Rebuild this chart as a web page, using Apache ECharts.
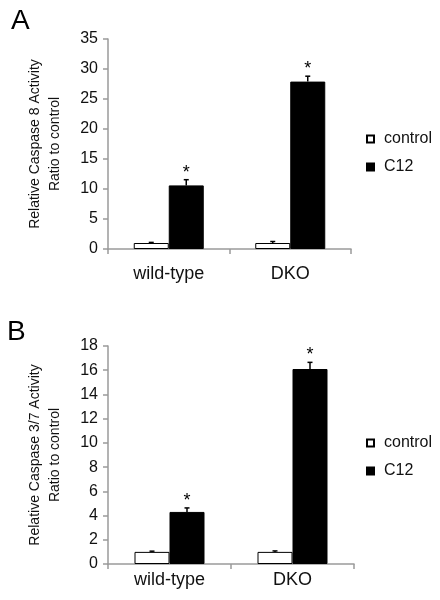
<!DOCTYPE html>
<html>
<head>
<meta charset="utf-8">
<script src="https://cdn.jsdelivr.net/npm/echarts@6/dist/echarts.min.js"></script>
<style>
html,body{margin:0;padding:0;background:#fff;}
#c{width:440px;height:600px;}
</style>
</head>
<body>
<div id="c"></div>
<script>
var categories = ['wild-type', 'DKO'];
var seriesNames = ['control', 'C12'];

// Panel A: Relative Caspase 8 Activity
var ticksA = { min: 0, max: 35, interval: 5 };
var controlA = [1.0, 1.0];
var controlErrA = [0.1, 0.25];
var c12A = [10.6, 27.9];
var c12ErrA = [0.95, 0.9];
var starsA = [true, true];

// Panel B: Relative Caspase 3/7 Activity
var ticksB = { min: 0, max: 18, interval: 2 };
var controlB = [1.0, 1.0];
var controlErrB = [0.06, 0.08];
var c12B = [4.3, 16.1];
var c12ErrB = [0.33, 0.55];
var starsB = [true, true];

var titleA = 'Relative Caspase 8 Activity\nRatio to control';
var titleB = 'Relative Caspase 3/7 Activity\nRatio to control';

var FONT = 'Liberation Sans, Arial, sans-serif';
var AXIS_COLOR = '#9a9a9a';
var TEXT_COLOR = '#111';
var BAR_W = 35;

function errData(vals, errs, sign, stars) {
  return vals.map(function (v, i) { return [i, v, errs[i], sign, stars ? (stars[i] ? 1 : 0) : 0]; });
}

function renderErr(params, api) {
  var cat = api.value(0), v = api.value(1), e = api.value(2), sign = api.value(3), star = api.value(4);
  var base = api.coord([cat, v]);
  var top = api.coord([cat, v + e]);
  var x = base[0] + sign * BAR_W / 2;
  var children = [
    { type: 'line', shape: { x1: x, y1: base[1], x2: x, y2: top[1] }, style: { stroke: '#000', lineWidth: 1.5 } },
    { type: 'line', shape: { x1: x - 2.5, y1: top[1], x2: x + 2.5, y2: top[1] }, style: { stroke: '#000', lineWidth: 1.5 } }
  ];
  if (star) {
    children.push({ type: 'text', style: { text: '*', x: x, y: top[1] - 7, textAlign: 'center', textVerticalAlign: 'middle', font: '18px ' + FONT, fill: '#000' } });
  }
  return { type: 'group', children: children };
}

function xAxis(gi, margin) {
  return {
    type: 'category', gridIndex: gi, data: categories,
    axisLine: { lineStyle: { color: AXIS_COLOR, width: 1.5 } },
    axisTick: { show: true, length: 5, lineStyle: { color: AXIS_COLOR, width: 1.5 } },
    axisLabel: { color: TEXT_COLOR, fontSize: 18, fontFamily: FONT, margin: margin }
  };
}
function yAxis(gi, t, name) {
  return {
    type: 'value', gridIndex: gi, min: t.min, max: t.max, interval: t.interval,
    name: name, nameLocation: 'middle', nameRotate: 90, nameGap: 43,
    nameTextStyle: { color: TEXT_COLOR, fontSize: 14, fontFamily: FONT, lineHeight: 20, align: 'center' },
    axisLine: { show: true, lineStyle: { color: AXIS_COLOR, width: 1.5 } },
    axisTick: { show: true, length: 5, lineStyle: { color: AXIS_COLOR, width: 1.5 } },
    axisLabel: { color: TEXT_COLOR, fontSize: 16, fontFamily: FONT, margin: 10 },
    splitLine: { show: false }
  };
}
function barSeries(name, data, xi, filled) {
  return {
    type: 'bar', name: name, xAxisIndex: xi, yAxisIndex: xi, data: data,
    barWidth: BAR_W, barGap: '0%',
    itemStyle: filled ? { color: '#000', borderColor: '#000', borderWidth: 1 } : { color: '#fff', borderColor: '#000', borderWidth: 1 },
    emphasis: { disabled: true }, animation: false
  };
}
function errSeries(data, xi) {
  return {
    type: 'custom', xAxisIndex: xi, yAxisIndex: xi, data: data,
    encode: { x: 0, y: 1 }, renderItem: renderErr, animation: false, z: 5, silent: true
  };
}
function legend(top) {
  return {
    data: seriesNames, orient: 'vertical', left: 361, top: top,
    icon: 'rect', itemWidth: 7, itemHeight: 7, itemGap: 12,
    textStyle: { color: TEXT_COLOR, fontSize: 16, fontFamily: FONT, padding: [0, 0, 0, 5] },
    selectedMode: false
  };
}

var chart = echarts.init(document.getElementById('c'), null, { renderer: 'canvas' });
chart.setOption({
  backgroundColor: '#fff',
  animation: false,
  title: [
    { text: 'A', left: 11, top: 7, padding: 0, textStyle: { fontSize: 28, fontWeight: 'normal', color: '#000', fontFamily: FONT } },
    { text: 'B', left: 7, top: 318, padding: 0, textStyle: { fontSize: 28, fontWeight: 'normal', color: '#000', fontFamily: FONT } }
  ],
  legend: [legend(126), legend(430)],
  grid: [
    { left: 108, width: 243, top: 39, height: 210 },
    { left: 108, width: 246, top: 346, height: 218 }
  ],
  xAxis: [xAxis(0, 16), xAxis(1, 7)],
  yAxis: [yAxis(0, ticksA, titleA), yAxis(1, ticksB, titleB)],
  series: [
    barSeries('control', controlA, 0, false),
    barSeries('C12', c12A, 0, true),
    errSeries(errData(controlA, controlErrA, -1, null), 0),
    errSeries(errData(c12A, c12ErrA, 1, starsA), 0),
    barSeries('control', controlB, 1, false),
    barSeries('C12', c12B, 1, true),
    errSeries(errData(controlB, controlErrB, -1, null), 1),
    errSeries(errData(c12B, c12ErrB, 1, starsB), 1)
  ]
});
</script>
</body>
</html>
